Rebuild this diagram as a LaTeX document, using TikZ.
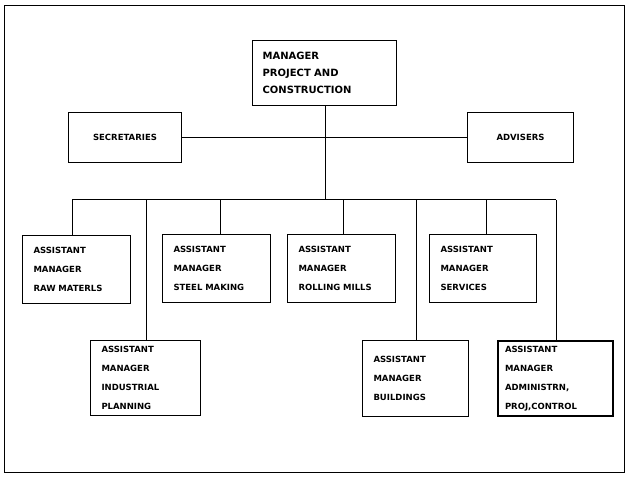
\documentclass[tikz,border=0pt]{standalone}
\usepackage{fontspec}
\setmainfont{DejaVu Sans}
\begin{document}
\begin{tikzpicture}[x=1pt,y=-1pt,
  bx/.style={draw,line width=1pt,inner xsep=11pt,inner ysep=0pt,font=\bfseries\fontsize{8.5}{19}\selectfont,align=left,anchor=north west},
  ln/.style={line width=1pt}]
\useasboundingbox (0,0) rectangle (629,478);
\draw[line width=0.8pt] (4,5) rectangle (624,472);
\node[bx,text width=124pt,minimum height=65pt,line width=1.3pt,font=\bfseries\fontsize{10}{17}\selectfont,inner xsep=10pt] (top) at (252,40) {MANAGER\\PROJECT AND\\CONSTRUCTION};
\node[bx,minimum width=113pt,minimum height=50pt,align=center] (sec) at (68,112) {SECRETARIES};
\node[bx,minimum width=106pt,minimum height=50pt,align=center] (adv) at (467,112) {ADVISERS};
\node[bx,text width=86pt,minimum height=68pt] (a1) at (22,235) {ASSISTANT\\MANAGER\\RAW MATERLS};
\node[bx,text width=86pt,minimum height=68pt] (a2) at (162,234) {ASSISTANT\\MANAGER\\STEEL MAKING};
\node[bx,text width=86pt,minimum height=68pt] (a3) at (287,234) {ASSISTANT\\MANAGER\\ROLLING MILLS};
\node[bx,text width=85pt,minimum height=68pt] (a4) at (429,234) {ASSISTANT\\MANAGER\\SERVICES};
\node[bx,text width=88pt,minimum height=75pt] (b1) at (90,340) {ASSISTANT\\MANAGER\\INDUSTRIAL\\PLANNING};
\node[bx,text width=84pt,minimum height=76pt] (b2) at (362,340) {ASSISTANT\\MANAGER\\BUILDINGS};
\node[bx,text width=101pt,minimum height=75pt,line width=2pt,inner xsep=7pt] (b3) at (497,340) {ASSISTANT\\MANAGER\\ADMINISTRN,\\PROJ,CONTROL};
\coordinate (j) at (325,136);
\coordinate (bus) at (325,200);
\draw[ln] (top.south -| j) -- (bus);
\draw[ln] (sec.east) -- (adv.west);
\draw[ln] (72,200) -- (556,200);
\draw[ln] (72,200) -- (a1.north -| 72,0);
\draw[ln] (220,200) -- (a2.north -| 220,0);
\draw[ln] (343,200) -- (a3.north -| 343,0);
\draw[ln] (486,200) -- (a4.north -| 486,0);
\draw[ln] (146,200) -- (b1.north -| 146,0);
\draw[ln] (416,200) -- (b2.north -| 416,0);
\draw[ln] (556,200) -- (b3.north -| 556,0);
\end{tikzpicture}
\end{document}
